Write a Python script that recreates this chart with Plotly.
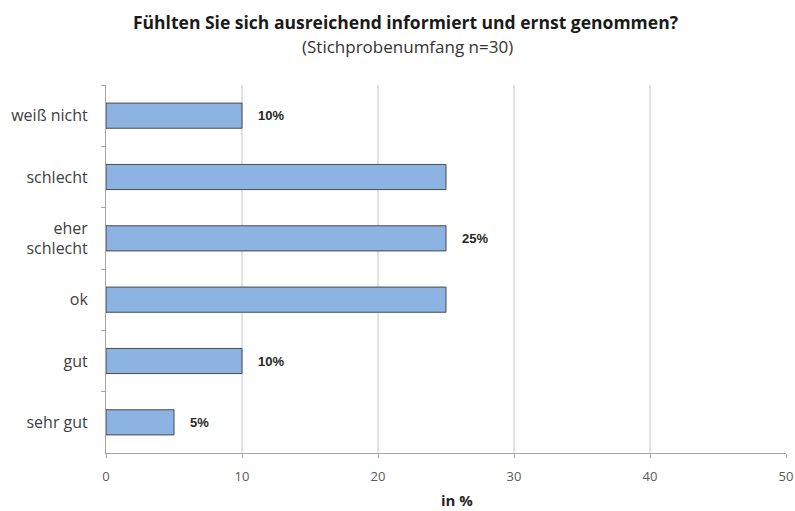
import plotly.graph_objects as go

# Survey answers, listed top to bottom as they appear on the chart
categories = ["weiß nicht", "schlecht", "eher<br>schlecht", "ok", "gut", "sehr gut"]
shares = [10, 25, 25, 25, 10, 5]
show_label = [True, False, True, False, True, True]

x_ticks = [0, 10, 20, 30, 40, 50]
grid_at = [10, 20, 30, 40]

title_text = "Fühlten Sie sich ausreichend informiert und ernst genommen?"
subtitle_text = "(Stichprobenumfang n=30)"
x_title = "in %"

LABEL_FONT = "Open Sans, DejaVu Sans, sans-serif"
VALUE_FONT = "Liberation Sans, Arial, sans-serif"

W, H = 795, 511
M = dict(l=106, r=9, t=85, b=58)
PW = W - M["l"] - M["r"]
PH = H - M["t"] - M["b"]

fig = go.Figure(
    go.Bar(
        x=shares,
        y=categories,
        orientation="h",
        width=0.41,
        marker=dict(color="#8DB3E2", line=dict(color="#4A4A4A", width=1)),
        hoverinfo="skip",
    )
)

# vertical grid lines
for g in grid_at:
    fig.add_shape(
        type="line", xref="x", yref="paper", x0=g, x1=g, y0=0, y1=1,
        line=dict(color="#C4C4C4", width=1), layer="below",
    )

# value labels next to selected bars
for cat, val, show in zip(categories, shares, show_label):
    if show:
        fig.add_annotation(
            x=val, y=cat, xref="x", yref="y", text=f"<b>{val}%</b>",
            showarrow=False, xanchor="left", xshift=14,
            font=dict(family=VALUE_FONT, size=13, color="#262626"),
        )

# axis title
fig.add_annotation(
    xref="paper", yref="paper", x=(457 - M["l"]) / PW, y=-(500 - (H - M["b"])) / PH,
    text=f"<b>{x_title}</b>", showarrow=False, xanchor="center", yanchor="middle",
    font=dict(family=LABEL_FONT, size=15, color="#262626"),
)

# subtitle under the main title
fig.add_annotation(
    xref="paper", yref="paper", x=(407 - M["l"]) / PW, y=1 + (M["t"] - 46) / PH,
    text=subtitle_text, showarrow=False, xanchor="center", yanchor="middle",
    font=dict(family=LABEL_FONT, size=17, color="#333333"),
)

fig.update_layout(
    width=W,
    height=H,
    margin=M,
    paper_bgcolor="white",
    plot_bgcolor="white",
    showlegend=False,
    title=dict(
        text=f"<b>{title_text}</b>",
        x=405.5 / W, xanchor="center", xref="container",
        y=1 - 23 / H, yanchor="middle", yref="container",
        font=dict(family=LABEL_FONT, size=17.5, color="#1A1A1A"),
    ),
    xaxis=dict(
        range=[0, 50],
        tickvals=x_ticks,
        automargin=False,
        showgrid=False,
        zeroline=False,
        showline=True,
        linecolor="#A6A6A6",
        linewidth=1,
        ticks="outside",
        ticklen=4,
        tickcolor="#A6A6A6",
        tickfont=dict(family=LABEL_FONT, size=13, color="#595959"),
        ticklabelstandoff=7,
    ),
    yaxis=dict(
        autorange="reversed",
        automargin=False,
        showgrid=False,
        showline=True,
        linecolor="#A6A6A6",
        linewidth=1,
        ticks="outside",
        ticklen=4,
        tickcolor="#A6A6A6",
        tickson="boundaries",
        tickfont=dict(family=LABEL_FONT, size=16, color="#404040"),
        ticklabelstandoff=14,
    ),
)

fig.write_html("out.html")
